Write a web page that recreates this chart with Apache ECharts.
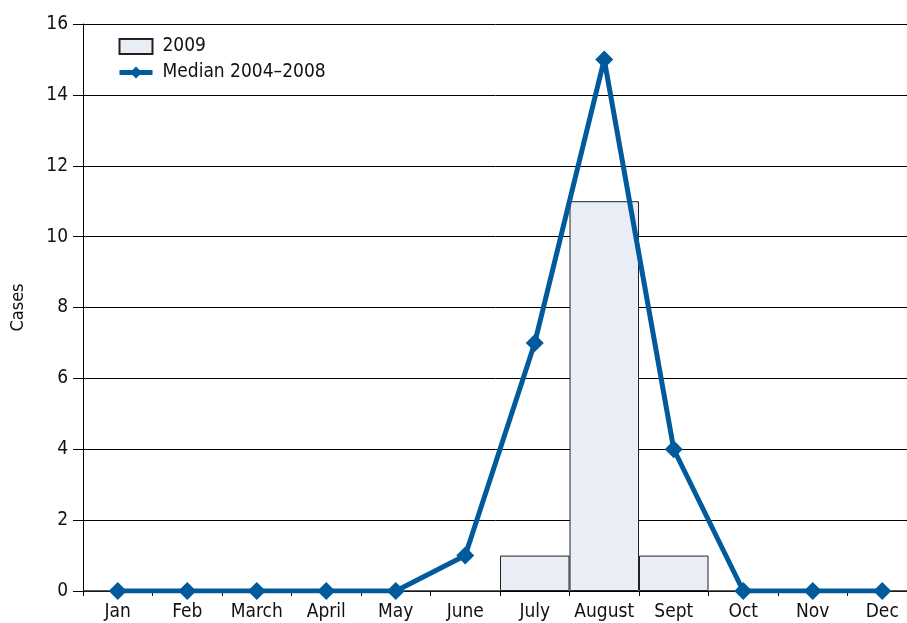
<!DOCTYPE html>
<html><head><meta charset="utf-8">
<script src="https://cdn.jsdelivr.net/npm/echarts@6/dist/echarts.min.js"></script>
<style>html,body{margin:0;padding:0;background:#fff}#c{width:907px;height:623px}</style>
</head><body><div id="c"></div>
<script>
const months = ['Jan','Feb','March','April','May','June','July','August','Sept','Oct','Nov','Dec'];
const cases2009 = [0,0,0,0,0,0,1,11,1,0,0,0];
const median0408 = [0,0,0,0,0,1,7,15,4,0,0,0];
const yTicks = {min:0, max:16, interval:2};
const FONT = '"DejaVu Sans Condensed", "Liberation Sans", Arial, sans-serif';
const chart = echarts.init(document.getElementById('c'));
chart.setOption({
  animation:false,
  textStyle:{fontFamily:FONT},
  grid:{left:83, top:24, width:834, bottom:32, containLabel:false, outerBoundsMode:'none'},
  legend:{
    orient:'vertical', left:117, top:37, padding:0, itemWidth:33, itemHeight:15, itemGap:7,
    textStyle:{fontFamily:FONT, fontSize:19, color:'#111', padding:[0,0,0,5]},
    lineStyle:{width:5},
    data:[{name:'2009', icon:'rect'},{name:'Median 2004–2008'}]
  },
  xAxis:{
    type:'category', data:months, boundaryGap:true,
    axisLine:{lineStyle:{color:'#000', width:1}},
    axisTick:{show:true, inside:false, length:5, lineStyle:{color:'#000'}},
    axisLabel:{fontFamily:FONT, fontSize:19, color:'#111', margin:12, interval:0}
  },
  yAxis:{
    type:'value', min:yTicks.min, max:yTicks.max, interval:yTicks.interval,
    name:'Cases', nameLocation:'middle', nameGap:56, nameRotate:90,
    nameTextStyle:{fontFamily:FONT, fontSize:18, color:'#111'},
    axisLine:{show:true, lineStyle:{color:'#000', width:1}},
    axisTick:{show:true, length:10, lineStyle:{color:'#000'}},
    axisLabel:{fontFamily:FONT, fontSize:19, color:'#111', margin:15},
    splitLine:{show:true, lineStyle:{color:'#000', width:1}}
  },
  series:[
    {name:'2009', type:'bar', data:cases2009, barWidth:'100%', barCategoryGap:'0%',
     itemStyle:{color:'#e9edf5', borderColor:'#222', borderWidth:1}, z:2},
    {name:'Median 2004–2008', type:'line', data:median0408,
     symbol:'diamond', symbolSize:18, lineStyle:{color:'#005a9c', width:5},
     itemStyle:{color:'#005a9c'}, z:3}
  ]
});
</script></body></html>
